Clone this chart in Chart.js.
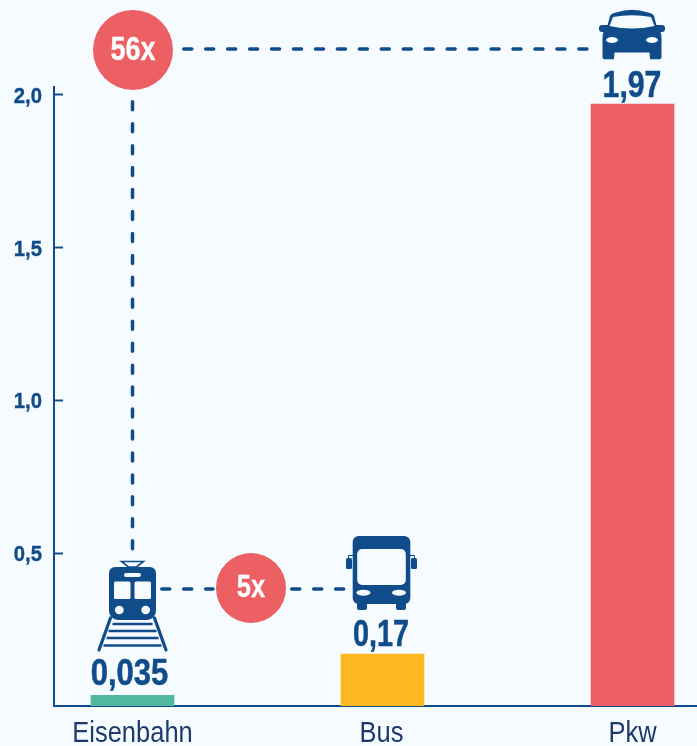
<!DOCTYPE html>
<html>
<head>
<meta charset="utf-8">
<style>
  html, body { margin: 0; padding: 0; background: #f6fbff; }
  canvas { display: block; }
</style>
<script src="https://cdn.jsdelivr.net/npm/chart.js"></script>
</head>
<body>
<canvas id="chart" width="697" height="746"></canvas>
<script>
const categories = ['Eisenbahn', 'Bus', 'Pkw'];
const values = [0.035, 0.17, 1.97];
const valueLabels = ['0,035', '0,17', '1,97'];
const barColors = ['#52b89f', '#fbb822', '#ec6064'];
const yTicks = [0.5, 1.0, 1.5, 2.0];
const yTickLabels = ['0,5', '1,0', '1,5', '2,0'];
const multipliers = ['56x', '5x'];

const BLUE = '#104c8a';
const RED = '#ec6064';
const NAVY = '#1d3a6c';
const BG = '#f6fbff';
const SANS = '"Liberation Sans", sans-serif';

// no condensed face is installed, so squeeze the text horizontally
function narrowText(ctx, text, x, y, font, color, align, squeeze, heavy) {
  ctx.save();
  ctx.translate(x, y);
  ctx.scale(squeeze, 1);
  ctx.font = font;
  ctx.fillStyle = color;
  ctx.textAlign = align;
  ctx.textBaseline = 'alphabetic';
  ctx.fillText(text, 0, 0);
  if (heavy) {
    ctx.strokeStyle = color;
    ctx.lineWidth = heavy;
    ctx.strokeText(text, 0, 0);
  }
  ctx.restore();
}

function dashed(ctx, x1, y1, x2, y2) {
  ctx.save();
  ctx.strokeStyle = BLUE;
  ctx.lineWidth = 3.5;
  ctx.lineCap = 'round';
  ctx.setLineDash([8, 13.95]);
  ctx.beginPath();
  ctx.moveTo(x1, y1);
  ctx.lineTo(x2, y2);
  ctx.stroke();
  ctx.restore();
}

function badge(ctx, x, y, r, text, size, textY) {
  ctx.fillStyle = RED;
  ctx.beginPath();
  ctx.arc(x, y, r, 0, Math.PI * 2);
  ctx.fill();
  narrowText(ctx, text, x, textY, 'bold ' + size + 'px ' + SANS, '#ffffff', 'center', 0.82, 0.3);
}

function rr(ctx, x, y, w, h, r) {
  ctx.beginPath();
  ctx.roundRect(x, y, w, h, r);
  ctx.fill();
}

function oval(ctx, x, y, rx, ry) {
  ctx.beginPath();
  ctx.ellipse(x, y, rx, ry, 0, 0, Math.PI * 2);
  ctx.fill();
}

/* ---------- ICONS ---------- */
function trainIcon(ctx, x) {
  ctx.save();
  ctx.translate(x, 0);
  ctx.strokeStyle = BLUE;
  ctx.fillStyle = BLUE;

  // pantograph
  ctx.lineWidth = 1.6;
  ctx.beginPath();
  ctx.moveTo(-11, 561.5);
  ctx.lineTo(11, 561.5);
  ctx.lineTo(4, 567);
  ctx.lineTo(-4, 567);
  ctx.closePath();
  ctx.stroke();

  // rails
  ctx.lineWidth = 3.2;
  ctx.lineCap = 'round';
  ctx.beginPath();
  ctx.moveTo(-22, 618);
  ctx.lineTo(-33.5, 650);
  ctx.moveTo(22, 618);
  ctx.lineTo(33.5, 650);
  ctx.stroke();

  // sleepers
  ctx.lineCap = 'butt';
  ctx.lineWidth = 2.6;
  [[624, 20], [631, 24], [638, 26], [645.5, 29]].forEach(s => {
    ctx.beginPath();
    ctx.moveTo(-s[1], s[0]);
    ctx.lineTo(s[1], s[0]);
    ctx.stroke();
  });

  // body
  ctx.beginPath();
  ctx.roundRect(-23.5, 567, 47, 53, [6, 6, 9, 9]);
  ctx.fill();

  ctx.fillStyle = BG;
  rr(ctx, -8.5, 573, 17, 4, 2);
  rr(ctx, -18.5, 581.5, 16.5, 17.5, 1.5);
  rr(ctx, 2, 581.5, 16.5, 17.5, 1.5);
  oval(ctx, -13.2, 610, 4.4, 4.2);
  oval(ctx, 13.2, 610, 4.4, 4.2);
  ctx.restore();
}

function busIcon(ctx, x) {
  ctx.save();
  ctx.translate(x, 0);
  ctx.fillStyle = BLUE;
  ctx.strokeStyle = BLUE;

  // mirrors
  rr(ctx, -35.5, 558, 6, 11, 1.5);
  rr(ctx, 29.5, 558, 6, 11, 1.5);
  ctx.lineWidth = 1;
  ctx.beginPath();
  ctx.moveTo(-33, 558);
  ctx.lineTo(-33, 555.5);
  ctx.lineTo(-28, 555.5);
  ctx.moveTo(33, 558);
  ctx.lineTo(33, 555.5);
  ctx.lineTo(28, 555.5);
  ctx.stroke();

  // wheels and body
  rr(ctx, -24.5, 600, 10, 10, 2);
  rr(ctx, 14.5, 600, 10, 10, 2);
  rr(ctx, -28.8, 536, 57.6, 68, 6);

  ctx.fillStyle = BG;
  rr(ctx, -24.3, 549, 48.6, 36, 5);
  oval(ctx, -18, 592.7, 7, 3);
  oval(ctx, 17.5, 592.7, 7, 3);
  ctx.restore();
}

function carIcon(ctx, x) {
  ctx.save();
  ctx.translate(x, 0);
  ctx.fillStyle = BLUE;

  // mirrors
  rr(ctx, -33, 25, 12, 7, 3);
  rr(ctx, 21, 25, 12, 7, 3);

  // body
  ctx.beginPath();
  ctx.moveTo(-29.5, 57);
  ctx.quadraticCurveTo(-29.5, 59.3, -27.5, 59.3);
  ctx.lineTo(-18, 59.3);
  ctx.lineTo(-17.5, 52.5);
  ctx.lineTo(17.5, 52.5);
  ctx.lineTo(18, 59.3);
  ctx.lineTo(27.5, 59.3);
  ctx.quadraticCurveTo(29.5, 59.3, 29.5, 57);
  ctx.lineTo(29.5, 38);
  ctx.quadraticCurveTo(29.5, 30, 25, 27);
  ctx.lineTo(22, 16);
  ctx.quadraticCurveTo(20.5, 13, 16, 12.5);
  ctx.quadraticCurveTo(0, 7, -16, 12.5);
  ctx.quadraticCurveTo(-20.5, 13, -22, 16);
  ctx.lineTo(-25, 27);
  ctx.quadraticCurveTo(-29.5, 30, -29.5, 38);
  ctx.closePath();
  ctx.fill();

  // windscreen and lights
  ctx.fillStyle = BG;
  ctx.beginPath();
  ctx.moveTo(-19, 17);
  ctx.quadraticCurveTo(0, 13.5, 19, 17);
  ctx.lineTo(22.5, 26);
  ctx.quadraticCurveTo(0, 31, -22.5, 26);
  ctx.closePath();
  ctx.fill();
  oval(ctx, -20, 40, 6, 3);
  oval(ctx, 20, 40, 6, 3);
  ctx.restore();
}

/* ---------- OVERLAY ---------- */
const overlay = {
  id: 'overlay',
  afterDatasetsDraw(chart) {
    const ctx = chart.ctx;
    const x = chart.scales.x;
    const y = chart.scales.y;
    const trainX = x.getPixelForValue(0);
    const busX = x.getPixelForValue(1);
    const carX = x.getPixelForValue(2);

    ctx.save();

    dashed(ctx, 183.75, 49, 590, 49);
    dashed(ctx, trainX, 101.75, trainX, 550);
    dashed(ctx, 161.75, 589, 213, 589);
    dashed(ctx, 291.75, 589, 345, 589);

    badge(ctx, trainX + 0.5, 50, 40, multipliers[0], 33, 60);
    badge(ctx, 251, 588, 35, multipliers[1], 31, 596.5);

    trainIcon(ctx, trainX);
    busIcon(ctx, busX - 1);
    carIcon(ctx, carX - 0.5);

    // value labels above the bars
    const labelShift = [-3, -1.5, -0.5];
    const labelRise = [10, 8, 7.3];
    const labelSqueeze = [0.86, 0.8, 0.84];
    values.forEach((v, i) => {
      narrowText(ctx, valueLabels[i], x.getPixelForValue(i) + labelShift[i], y.getPixelForValue(v) - labelRise[i],
        'bold 36px ' + SANS, BLUE, 'center', labelSqueeze[i], 0.5);
    });

    // axis labels
    const catShift = [0, -1, 0];
    categories.forEach((c, i) => {
      narrowText(ctx, c, x.getPixelForValue(i) + catShift[i], 741.5, '30px ' + SANS, NAVY, 'center', 0.85);
    });
    yTicks.forEach((v, i) => {
      narrowText(ctx, yTickLabels[i], 42, y.getPixelForValue(v) + 8,
        'bold 22px ' + SANS, BLUE, 'right', 0.92, 0.4);
    });

    ctx.restore();
  }
};

new Chart(document.getElementById('chart'), {
  type: 'bar',
  data: {
    datasets: [{
      data: values.map((v, i) => ({ x: i, y: v })),
      backgroundColor: barColors,
      barThickness: 83
    }]
  },
  options: {
    responsive: false,
    animation: false,
    layout: { padding: { top: 87, left: 0, right: 0, bottom: 0 } },
    plugins: { legend: { display: false }, tooltip: { enabled: false } },
    scales: {
      x: {
        type: 'linear',
        offset: false,
        min: -0.314,
        max: 2.258,
        afterFit: s => { s.height = 40; },
        afterBuildTicks: s => { s.ticks = categories.map((c, i) => ({ value: i })); },
        grid: { display: false, drawTicks: false, offset: false },
        border: { color: BLUE, width: 2 },
        ticks: { display: false }
      },
      y: {
        min: 0,
        max: 2.026,
        afterFit: s => { s.width = 54; },
        afterBuildTicks: s => { s.ticks = yTicks.map(v => ({ value: v })); },
        grid: { drawOnChartArea: false, drawTicks: true, tickLength: -9, tickWidth: 2, tickColor: BLUE },
        border: { color: BLUE, width: 2 },
        ticks: { display: false }
      }
    }
  },
  plugins: [overlay]
});
</script>
</body>
</html>
